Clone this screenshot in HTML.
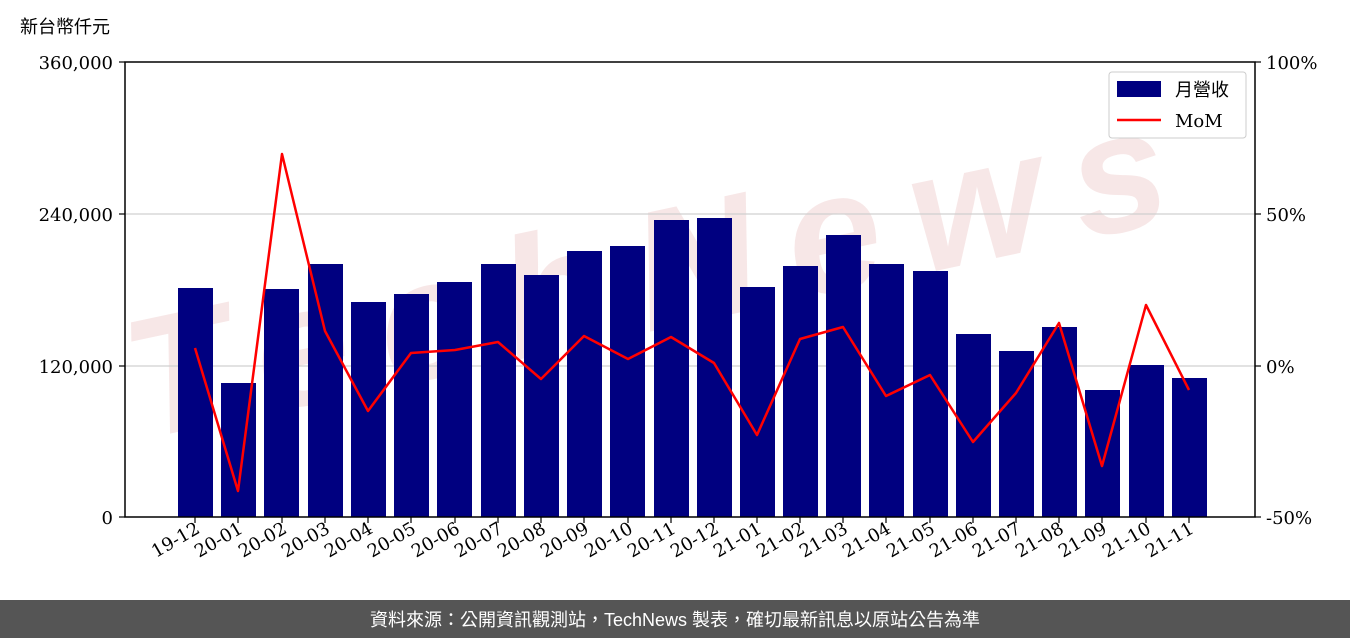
<!DOCTYPE html>
<html><head><meta charset="utf-8"><style>
html,body{margin:0;padding:0;background:#fff;width:1350px;height:638px;overflow:hidden}
</style></head><body>
<svg width="1350" height="638" xmlns="http://www.w3.org/2000/svg" style="position:absolute;left:0;top:0">
<g font-family="'DejaVu Serif','Noto Serif CJK SC',serif" font-size="18" fill="#000">
<!-- watermark -->
<text x="0" y="0" transform="translate(140,440) rotate(-12)" font-family="'Liberation Sans',sans-serif" font-weight="bold" font-style="italic" font-size="170" fill="#f6e2e2" opacity="0.8" letter-spacing="32">TechNews</text>
<!-- grid -->
<g stroke="#d0d0d0" stroke-width="1.2">
<line x1="125" y1="214" x2="1255" y2="214"/>
<line x1="125" y1="366" x2="1255" y2="366"/>
</g>
<!-- bars -->
<g fill="#000080">
<rect x="178" y="288" width="35" height="229"/>
<rect x="221" y="383" width="35" height="134"/>
<rect x="264" y="289" width="35" height="228"/>
<rect x="308" y="264" width="35" height="253"/>
<rect x="351" y="302" width="35" height="215"/>
<rect x="394" y="294" width="35" height="223"/>
<rect x="437" y="282" width="35" height="235"/>
<rect x="481" y="264" width="35" height="253"/>
<rect x="524" y="275" width="35" height="242"/>
<rect x="567" y="251" width="35" height="266"/>
<rect x="610" y="246" width="35" height="271"/>
<rect x="654" y="220" width="35" height="297"/>
<rect x="697" y="218" width="35" height="299"/>
<rect x="740" y="287" width="35" height="230"/>
<rect x="783" y="266" width="35" height="251"/>
<rect x="826" y="235" width="35" height="282"/>
<rect x="869" y="264" width="35" height="253"/>
<rect x="913" y="271" width="35" height="246"/>
<rect x="956" y="334" width="35" height="183"/>
<rect x="999" y="351" width="35" height="166"/>
<rect x="1042" y="327" width="35" height="190"/>
<rect x="1085" y="390" width="35" height="127"/>
<rect x="1129" y="365" width="35" height="152"/>
<rect x="1172" y="378" width="35" height="139"/>
</g>
<polyline fill="none" stroke="#ff0000" stroke-width="2.5" stroke-linejoin="round" points="195,348 238,491 282,154 325,331 368,411 411,353 455,350 498,342 541,379 584,336 628,359 671,337 714,363 757,435 800,339 843,327 886,396 930,375 973,442 1016,393 1059,323 1102,466 1146,305 1189,390"/>
<!-- axes -->
<rect x="125" y="62" width="1130" height="455" fill="none" stroke="#000" stroke-width="1.5"/>
<g stroke="#000" stroke-width="1.2">
<line x1="119" y1="62" x2="125" y2="62"/><line x1="119" y1="214" x2="125" y2="214"/><line x1="119" y1="366" x2="125" y2="366"/><line x1="119" y1="517" x2="125" y2="517"/>
<line x1="1255" y1="62" x2="1261" y2="62"/><line x1="1255" y1="214" x2="1261" y2="214"/><line x1="1255" y1="366" x2="1261" y2="366"/><line x1="1255" y1="517" x2="1261" y2="517"/>
</g>
<g text-anchor="end">
<text x="113" y="69">360,000</text><text x="113" y="221">240,000</text><text x="113" y="373">120,000</text><text x="113" y="524">0</text>
</g>
<g>
<text x="1266" y="69">100%</text><text x="1266" y="221">50%</text><text x="1266" y="373">0%</text><text x="1266" y="524">-50%</text>
</g>
<text x="20" y="33" font-family="'Liberation Sans','Noto Sans CJK TC',sans-serif" font-size="18">新台幣仟元</text>
<!-- x ticks -->
<g stroke="#000" stroke-width="1.2">
<line x1="195" y1="517" x2="195" y2="523"/><line x1="238" y1="517" x2="238" y2="523"/><line x1="282" y1="517" x2="282" y2="523"/><line x1="325" y1="517" x2="325" y2="523"/><line x1="368" y1="517" x2="368" y2="523"/><line x1="411" y1="517" x2="411" y2="523"/><line x1="455" y1="517" x2="455" y2="523"/><line x1="498" y1="517" x2="498" y2="523"/><line x1="541" y1="517" x2="541" y2="523"/><line x1="584" y1="517" x2="584" y2="523"/><line x1="628" y1="517" x2="628" y2="523"/><line x1="671" y1="517" x2="671" y2="523"/><line x1="714" y1="517" x2="714" y2="523"/><line x1="757" y1="517" x2="757" y2="523"/><line x1="800" y1="517" x2="800" y2="523"/><line x1="843" y1="517" x2="843" y2="523"/><line x1="886" y1="517" x2="886" y2="523"/><line x1="930" y1="517" x2="930" y2="523"/><line x1="973" y1="517" x2="973" y2="523"/><line x1="1016" y1="517" x2="1016" y2="523"/><line x1="1059" y1="517" x2="1059" y2="523"/><line x1="1102" y1="517" x2="1102" y2="523"/><line x1="1146" y1="517" x2="1146" y2="523"/><line x1="1189" y1="517" x2="1189" y2="523"/>
</g>
<g text-anchor="end">
<text transform="translate(201,532) rotate(-30)">19-12</text>
<text transform="translate(244,532) rotate(-30)">20-01</text>
<text transform="translate(288,532) rotate(-30)">20-02</text>
<text transform="translate(331,532) rotate(-30)">20-03</text>
<text transform="translate(374,532) rotate(-30)">20-04</text>
<text transform="translate(417,532) rotate(-30)">20-05</text>
<text transform="translate(461,532) rotate(-30)">20-06</text>
<text transform="translate(504,532) rotate(-30)">20-07</text>
<text transform="translate(547,532) rotate(-30)">20-08</text>
<text transform="translate(590,532) rotate(-30)">20-09</text>
<text transform="translate(634,532) rotate(-30)">20-10</text>
<text transform="translate(677,532) rotate(-30)">20-11</text>
<text transform="translate(720,532) rotate(-30)">20-12</text>
<text transform="translate(763,532) rotate(-30)">21-01</text>
<text transform="translate(806,532) rotate(-30)">21-02</text>
<text transform="translate(849,532) rotate(-30)">21-03</text>
<text transform="translate(892,532) rotate(-30)">21-04</text>
<text transform="translate(936,532) rotate(-30)">21-05</text>
<text transform="translate(979,532) rotate(-30)">21-06</text>
<text transform="translate(1022,532) rotate(-30)">21-07</text>
<text transform="translate(1065,532) rotate(-30)">21-08</text>
<text transform="translate(1108,532) rotate(-30)">21-09</text>
<text transform="translate(1152,532) rotate(-30)">21-10</text>
<text transform="translate(1195,532) rotate(-30)">21-11</text>
</g>
<!-- legend -->
<rect x="1109" y="72" width="137" height="66" rx="3" fill="#fff" fill-opacity="0.85" stroke="#ccc"/>
<rect x="1117" y="81" width="44" height="16" fill="#000080"/>
<text x="1175" y="96" font-family="'Liberation Sans','Noto Sans CJK TC',sans-serif" font-size="18">月營收</text>
<line x1="1117" y1="120" x2="1161" y2="120" stroke="#ff0000" stroke-width="2.5"/>
<text x="1175" y="127">MoM</text>
</g>
<rect x="0" y="600" width="1350" height="38" fill="#555"/>
<text x="675" y="626" text-anchor="middle" fill="#fff" font-family="'Liberation Sans','Noto Sans CJK TC',sans-serif" font-size="18">資料來源：公開資訊觀測站，TechNews 製表，確切最新訊息以原站公告為準</text>
</svg>
</body></html>
